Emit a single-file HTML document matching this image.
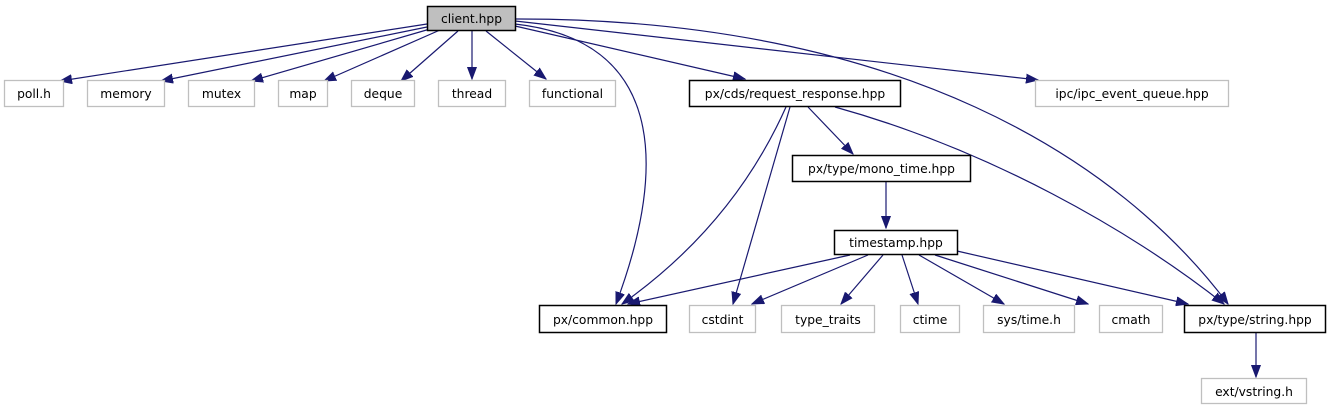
<!DOCTYPE html>
<html><head><meta charset="utf-8"><style>
html,body{margin:0;padding:0;background:#fff;}
svg{display:block;}
text{font-family:"DejaVu Sans","Liberation Sans",sans-serif;font-size:12.3px;fill:#000;text-anchor:middle;}
.g{fill:#fff;stroke:#bfbfbf;stroke-width:1.3}
.b{fill:#fff;stroke:#000;stroke-width:1.5}
.e{fill:none;stroke:#191970;stroke-width:1.2}
</style></head><body>
<svg width="1328" height="411" viewBox="0 0 1328 411" xmlns="http://www.w3.org/2000/svg">
<defs><marker id="a" markerWidth="13" markerHeight="10" refX="12" refY="5" orient="auto" markerUnits="userSpaceOnUse"><path d="M0,0.5 L12,5 L0,9.5 z" fill="#191970" stroke="#191970"/></marker></defs>
<g class="e" marker-end="url(#a)">
<path d="M427,24 L60,81"/>
<path d="M427,27 L161,81"/>
<path d="M430,29 L251,81"/>
<path d="M440,30 L324,81"/>
<path d="M458,31 L401,81"/>
<path d="M472,31 L472,79"/>
<path d="M486,31 L546,79"/>
<path d="M515,26 L745,79"/>
<path d="M515,21 L1038,80"/>
<path d="M515,24 C660,40 670,160 616,304"/>
<path d="M515,19 C900,18 1120,160 1228,304"/>
<path d="M786,107 C740,210 670,270 622,304"/>
<path d="M790,107 L733,304"/>
<path d="M808,107 L853,154"/>
<path d="M835,107 C990,150 1130,230 1224,304"/>
<path d="M886,181 L886,228"/>
<path d="M850,255 L628,304"/>
<path d="M868,255 L752,304"/>
<path d="M883,255 L841,304"/>
<path d="M902,255 L918,304"/>
<path d="M919,255 L1004,304"/>
<path d="M935,255 L1088,304"/>
<path d="M957,251 L1188,304"/>
<path d="M1256,333 L1256,377"/>
</g>
<rect x="427.5" y="6.5" width="88" height="24" fill="#bfbfbf" stroke="#000" stroke-width="1.5"/><text x="471.5" y="23">client.hpp</text>
<rect class="g" x="4.5" y="80.5" width="59" height="26"/><text x="34" y="98">poll.h</text>
<rect class="g" x="87.5" y="80.5" width="77" height="26"/><text x="126" y="98">memory</text>
<rect class="g" x="188.5" y="80.5" width="66" height="26"/><text x="221.5" y="98">mutex</text>
<rect class="g" x="278.5" y="80.5" width="49" height="26"/><text x="303" y="98">map</text>
<rect class="g" x="351.5" y="80.5" width="63" height="26"/><text x="383" y="98">deque</text>
<rect class="g" x="438.5" y="80.5" width="67" height="26"/><text x="472" y="98">thread</text>
<rect class="g" x="529.5" y="80.5" width="86" height="26"/><text x="572.5" y="98">functional</text>
<rect class="b" x="689.5" y="80.5" width="211" height="26"/><text x="795" y="98">px/cds/request_response.hpp</text>
<rect class="g" x="1035.5" y="80.5" width="193" height="26"/><text x="1132" y="98">ipc/ipc_event_queue.hpp</text>
<rect class="b" x="792.5" y="155.5" width="178" height="26"/><text x="881.5" y="173">px/type/mono_time.hpp</text>
<rect class="b" x="834.5" y="230.5" width="123" height="24"/><text x="896" y="247">timestamp.hpp</text>
<rect class="b" x="539.5" y="305.5" width="127" height="27"/><text x="603" y="324">px/common.hpp</text>
<rect class="g" x="689.5" y="305.5" width="66" height="27"/><text x="722.5" y="324">cstdint</text>
<rect class="g" x="781.5" y="305.5" width="93" height="27"/><text x="828" y="324">type_traits</text>
<rect class="g" x="900.5" y="305.5" width="59" height="27"/><text x="930" y="324">ctime</text>
<rect class="g" x="983.5" y="305.5" width="91" height="27"/><text x="1029" y="324">sys/time.h</text>
<rect class="g" x="1099.5" y="305.5" width="63" height="27"/><text x="1131" y="324">cmath</text>
<rect class="b" x="1184.5" y="305.5" width="141" height="27"/><text x="1255" y="324">px/type/string.hpp</text>
<rect class="g" x="1201.5" y="378.5" width="105" height="25"/><text x="1254" y="396">ext/vstring.h</text>
</svg>
</body></html>
